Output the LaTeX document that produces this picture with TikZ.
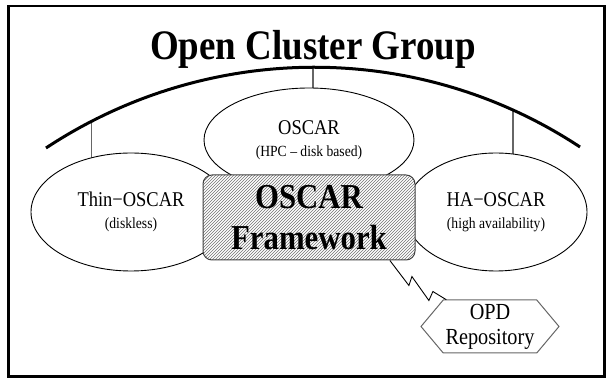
\documentclass[tikz,border=0pt]{standalone}
\usepackage{fontspec}
\setmainfont{Liberation Serif}[FakeStretch=0.88]
\usetikzlibrary{shapes.geometric,shapes.symbols,patterns,backgrounds}

\begin{document}
\begin{tikzpicture}[x=1pt,y=-1pt,
  blob/.style={draw,ellipse,fill=white,inner sep=0pt,line width=0.9pt,
    align=center,font=\fontsize{21}{22}\selectfont},
  fwbox/.style={draw=black!75,line width=1pt,rounded corners=9pt,
    preaction={fill=white},pattern=north east lines,pattern color=black!55,
    minimum width=212pt,minimum height=85pt,inner sep=0pt,align=center,
    font=\bfseries\fontsize{35}{41}\selectfont},
  hexa/.style={draw=black!60,line width=1pt,signal,signal to=east and west,
    signal pointer angle=100,minimum width=138pt,minimum height=53pt,
    inner sep=0pt,fill=white,align=center,font=\fontsize{23}{25}\selectfont},
  tick/.style={draw=black!60,line width=1.2pt},
  bolt/.style={draw,line width=0.9pt}]
  \useasboundingbox (0,0) rectangle (606,379);
  \draw[line width=2.7pt] (8.5,6) rectangle (604.5,376.5);

  % group title and its arc
  \node (title) [anchor=base,font=\bfseries\fontsize{42}{50}\selectfont] at (313,60) {Open Cluster Group};
  \draw[line width=3pt] (46,148) .. controls (208,41) and (418,40) .. (580,147)
    coordinate[pos=0.092] (t1) coordinate[pos=0.5] (t2) coordinate[pos=0.867] (t3);

  % the three flavours
  \node (thin) [blob,minimum width=200pt,minimum height=118pt] at (131,212) {Thin−OSCAR\\{\fontsize{15.5}{18}\selectfont (diskless)}};
  \node (ha) [blob,minimum width=182pt,minimum height=118pt] at (496,212) {HA−OSCAR\\{\fontsize{15.5}{18}\selectfont (high availability)}};
  \node (oscar) [blob,minimum width=210pt,minimum height=104pt] at (309,140) {OSCAR\\{\fontsize{15.5}{18}\selectfont (HPC – disk based)}};
  \node (fw) [fwbox] at (309,217.5) {OSCAR\\Framework};
  \node (opd) [hexa] at (490,326.5) {OPD\\Repository};

  \begin{pgfonlayer}{background}
    \path[tick] (t1) edge (t1 |- thin.center)
                (t2) edge (t2 |- oscar.center)
                (t3) edge (t3 |- ha.center);
  \end{pgfonlayer}

  \draw[bolt] (fw.-28.6) -- ++(19,25) -- ++(3,-9) -- ++(17,24) -- ++(4,-9) -- (opd);
\end{tikzpicture}
\end{document}
